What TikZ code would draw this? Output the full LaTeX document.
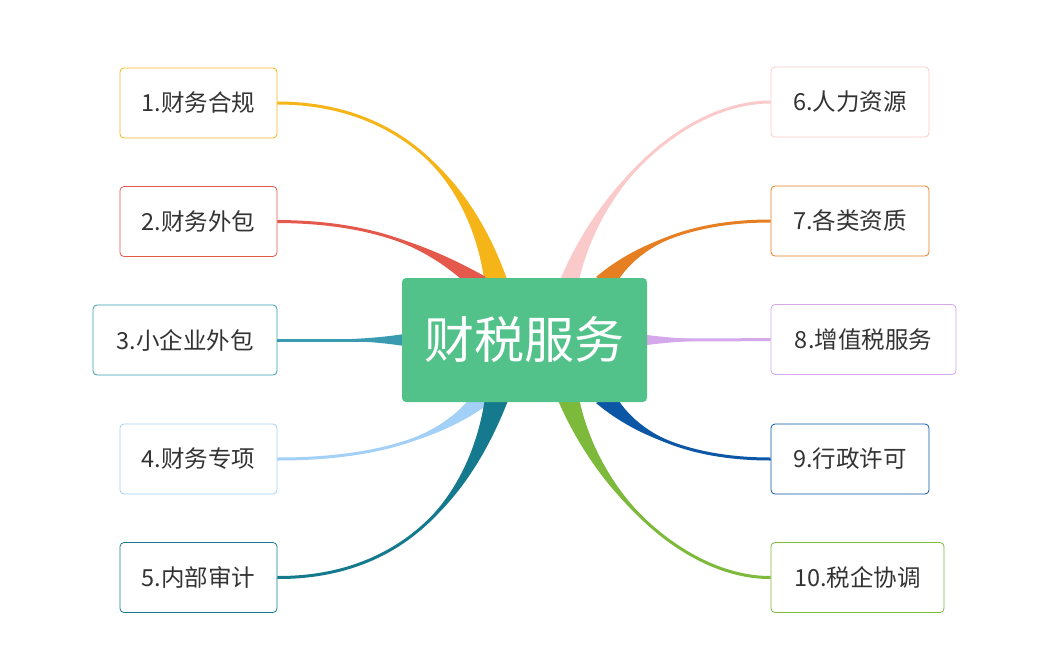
\documentclass[tikz,border=0pt]{standalone}
\usepackage{fontspec}
\setmainfont{Noto Sans CJK SC}
\usetikzlibrary{calc}
\definecolor{c1}{HTML}{F5B417}\definecolor{c2}{HTML}{E5584C}\definecolor{c3}{HTML}{3A9BB0}
\definecolor{c4}{HTML}{A3D0F7}\definecolor{c5}{HTML}{167A8E}\definecolor{c6}{HTML}{FACACA}
\definecolor{c7}{HTML}{E67E22}\definecolor{c8}{HTML}{D4A8EA}\definecolor{c9}{HTML}{0B57A6}
\definecolor{c10}{HTML}{7DB93B}\definecolor{ctr}{HTML}{52C28A}\definecolor{txt}{HTML}{333333}
\newcommand\rib[6]{\fill[#1] #2 .. controls #3 and #4 .. ($#5+#6$) -- ($#5-#6$) .. controls #4 and #3 .. #2;
\draw[#1,line width=3pt] #2 .. controls #3 and #4 .. #5;}
\begin{document}
\begin{tikzpicture}[x=1pt,y=-1pt,
 leaf/.style={draw=#1,line width=0.8pt,fill=white,rounded corners=4pt,minimum height=70pt,text=txt,font=\fontsize{23.5}{27}\selectfont,inner sep=0pt},
 ]
\useasboundingbox (0,0) rectangle (1047,672);
\node[leaf=c1,minimum width=157pt] (n1) at (198.5,103) {1.财务合规};
\node[leaf=c2,minimum width=157pt] (n2) at (198.5,221.5) {2.财务外包};
\node[leaf=c3,minimum width=184pt] (n3) at (185,340) {3.小企业外包};
\node[leaf=c4,minimum width=157pt] (n4) at (198.5,459) {4.财务专项};
\node[leaf=c5,minimum width=157pt] (n5) at (198.5,577.5) {5.内部审计};
\node[leaf=c6,minimum width=158pt] (n6) at (850,102) {6.人力资源};
\node[leaf=c7,minimum width=158pt] (n7) at (850,221) {7.各类资质};
\node[leaf=c8,minimum width=185pt] (n8) at (863.5,339.5) {8.增值税服务};
\node[leaf=c9,minimum width=158pt] (n9) at (850,459) {9.行政许可};
\node[leaf=c10,minimum width=173pt] (n10) at (857.5,577.5) {10.税企协调};
\rib{c1}{(n1.east)}{(390,103)}{(470,170)}{(497,285)}{(12,0)}
\rib{c2}{(n2.east)}{(360,222)}{(420,240)}{(478,282)}{(8,-5)}
\rib{c3}{(n3.east)}{(330,340)}{(370,340)}{(410,340)}{(0,7)}
\rib{c4}{(n4.east)}{(370,459)}{(440,440)}{(482,398)}{(8,5)}
\rib{c5}{(n5.east)}{(400,578)}{(470,500)}{(497,398)}{(12,0)}
\rib{c6}{(n6.west)}{(690,102)}{(600,180)}{(568,285)}{(10,0)}
\rib{c7}{(n7.west)}{(700,221)}{(640,240)}{(605,282)}{(9,5)}
\rib{c8}{(n8.west)}{(720,340)}{(680,340)}{(640,340)}{(0,6)}
\rib{c9}{(n9.west)}{(700,459)}{(640,440)}{(605,398)}{(9,-5)}
\rib{c10}{(n10.west)}{(690,578)}{(600,500)}{(568,398)}{(11,0)}
\node[fill=ctr,rounded corners=4pt,minimum width=245pt,minimum height=124pt,text=white,font=\fontsize{50}{56}\selectfont] (c) at (524.5,340) {财税服务};
\end{tikzpicture}
\end{document}
